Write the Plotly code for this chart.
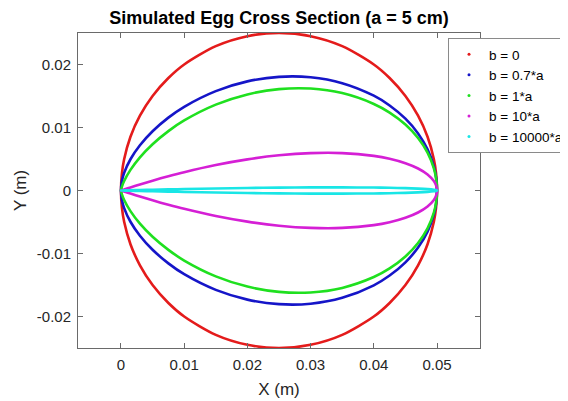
import plotly.graph_objects as go

x_m = [0, 0.00015, 0.0005, 0.0015, 0.003, 0.005, 0.0075, 0.01, 0.015, 0.02, 0.025,
       0.03, 0.035, 0.04, 0.0425, 0.045, 0.047, 0.0485, 0.0495, 0.04985, 0.05]

# upper half-profile heights (m); the lower half is the mirror image
y_b0 = [0, 0.002735, 0.00497, 0.00853, 0.01187, 0.015, 0.01785, 0.02, 0.02291, 0.02449, 0.025,
        0.02449, 0.02291, 0.02, 0.01785, 0.015, 0.01187, 0.00853, 0.00497, 0.002735, 0]
y_b07 = [0, 0.00151, 0.00279, 0.00496, 0.00718, 0.00941, 0.01157, 0.01329, 0.01578, 0.01732, 0.01804,
         0.01797, 0.01704, 0.01505, 0.0135, 0.0114, 0.00906, 0.00652, 0.00381, 0.0021, 0]
y_b1 = [0, 0.00062, 0.0015, 0.00328, 0.00527, 0.00735, 0.00943, 0.01112, 0.01363, 0.01525, 0.01609,
        0.01618, 0.01546, 0.01374, 0.01237, 0.01047, 0.00833, 0.00601, 0.00351, 0.00193, 0]
y_b10 = [0, 0.00005, 0.000166, 0.000491, 0.000963, 0.001563, 0.002266, 0.002915, 0.004046, 0.004943, 0.005584,
         0.005934, 0.005939, 0.005491, 0.00503, 0.004329, 0.00349, 0.00254, 0.001494, 0.000823, 0]
y_b10000 = [0, 0.000004, 0.000013, 0.000038, 0.000076, 0.000123, 0.00018, 0.000232, 0.000326, 0.000403, 0.00046,
            0.000493, 0.000498, 0.000465, 0.000428, 0.00037, 0.000299, 0.000218, 0.000129, 0.000071, 0]

series_names = ["b = 0", "b = 0.7*a", "b = 1*a", "b = 10*a", "b = 10000*a"]
series_vals = [y_b0, y_b07, y_b1, y_b10, y_b10000]
colors = ["#e41b1b", "#1515c8", "#1fe01f", "#d51fd5", "#19e6e6"]

x_ticks = [0, 0.01, 0.02, 0.03, 0.04, 0.05]
x_tick_text = ["0", "0.01", "0.02", "0.03", "0.04", "0.05"]
y_ticks = [-0.02, -0.01, 0, 0.01, 0.02]
y_tick_text = ["-0.02", "-0.01", "0", "0.01", "0.02"]

FONT = "Liberation Sans, Arial, Helvetica, sans-serif"
fig = go.Figure()

for name, ys, col in zip(series_names, series_vals, colors):
    xs = list(x_m) + list(x_m[::-1][1:])
    yy = list(ys) + [-v for v in ys[::-1][1:]]
    fig.add_trace(go.Scatter(x=xs, y=yy, mode="lines",
                             line=dict(color=col, width=2.6, shape="spline", smoothing=0.8),
                             showlegend=False, hoverinfo="skip"))

for name, col in zip(series_names, colors):
    fig.add_trace(go.Scatter(x=[None], y=[None], mode="markers", name=name,
                             marker=dict(color=col, size=3)))

axis_common = dict(showline=True, linecolor="#6a6a6a", linewidth=1, mirror="ticks",
                   ticks="inside", ticklen=5, tickcolor="#6a6a6a", showgrid=False,
                   zeroline=False, tickfont=dict(family=FONT, size=15, color="#262626"))

# page body adds an 8px offset, so the figure is 8px smaller and margins shifted
W, H = 560, 393
L, R, T, B = 70, 88, 25, 53
fig.update_layout(
    width=W, height=H,
    margin=dict(l=L, r=R, t=T, b=B, autoexpand=False),
    paper_bgcolor="white", plot_bgcolor="white",
    title=dict(text="<b>Simulated Egg Cross Section (a = 5 cm)</b>",
               x=(L + 201) / W, xanchor="center", y=1 - 10 / H, yanchor="middle",
               font=dict(family=FONT, size=18, color="black")),
    xaxis=dict(range=[-0.0068, 0.0568], tickvals=x_ticks, ticktext=x_tick_text,
               ticklabelstandoff=3,
               title=dict(text="X (m)", standoff=11, font=dict(family=FONT, size=17, color="#262626")),
               **axis_common),
    yaxis=dict(range=[-0.025, 0.025], tickvals=y_ticks, ticktext=y_tick_text,
               ticklabelstandoff=3,
               title=dict(text="Y (m)", standoff=5, font=dict(family=FONT, size=17, color="#262626")),
               **axis_common),
    legend=dict(x=(440 - L) / 402, xanchor="left", y=1 - 5 / 315, yanchor="top",
                bgcolor="white", bordercolor="#8a8a8a", borderwidth=1,
                font=dict(family=FONT, size=13.5, color="black"), tracegroupgap=0),
)

fig.write_html("out.html")
